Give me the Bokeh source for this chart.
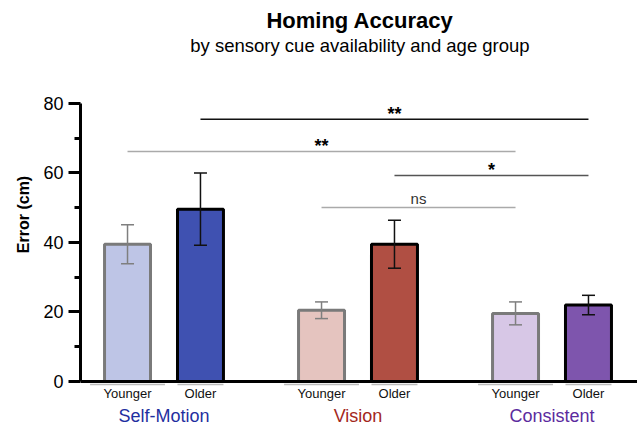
from bokeh.plotting import figure
from bokeh.models import Range1d, FixedTicker, Span, Whisker, TeeHead, ColumnDataSource
from bokeh.core.properties import value
from bokeh.embed import file_html
from bokeh.resources import INLINE

# ---------------- data ----------------
groups = ["Self-Motion", "Vision", "Consistent"]
ages = ["Younger", "Older"]
younger_mean = [39.5, 20.5, 19.6]
younger_err = [5.6, 2.4, 3.3]
older_mean = [49.6, 39.5, 22.0]
older_err = [10.4, 6.9, 2.8]

y_ticks = [0, 20, 40, 60, 80]
y_minor_ticks = [10, 30, 50, 70]

# significance comparisons: bar index (0..5 = SM-Y, SM-O, V-Y, V-O, C-Y, C-O)
sig_from = [1, 0, 3, 2]
sig_to = [5, 4, 5, 4]
sig_level = [75.5, 66.2, 59.3, 50.1]
sig_label = ["**", "**", "*", "ns"]

title_text = "Homing Accuracy"
subtitle_text = "by sensory cue availability and age group"
y_label = "Error (cm)"

# ---------------- styles ----------------
FONT = "Liberation Sans"
younger_fill = ["#BEC5E6", "#E5C4BF", "#D7C7E6"]
older_fill = ["#3F51B1", "#B04F43", "#7E55AD"]
group_text_color = ["#1F2FA0", "#A3281C", "#5B2B9E"]
sig_color = ["#111111", "#AAAAAA", "#555555", "#AAAAAA"]
age_offset = 0.188
bar_w = 0.237

p = figure(width=637, height=428,
           x_range=Range1d(-0.4304, 2.4407), y_range=Range1d(-13.53, 109.64),
           output_backend="svg", toolbar_location=None,
           x_axis_location=None,
           min_border_left=80, min_border_right=0, min_border_top=0, min_border_bottom=0)
p.xgrid.visible = False
p.ygrid.visible = False
p.outline_line_color = None
p.background_fill_color = "white"

ax = p.yaxis[0]
ax.ticker = FixedTicker(ticks=y_ticks, minor_ticks=y_minor_ticks)
ax.bounds = (0, 80)
ax.axis_line_width = 3
ax.axis_line_color = "black"
ax.major_tick_line_width = 3
ax.minor_tick_line_width = 3
ax.major_tick_out = 12
ax.major_tick_in = 0
ax.minor_tick_out = 6
ax.minor_tick_in = 0
ax.major_label_text_font = FONT
ax.major_label_text_font_size = "18px"
ax.major_label_text_color = "black"
ax.major_label_standoff = 5
ax.axis_label = y_label
ax.axis_label_text_font = FONT
ax.axis_label_text_font_size = "16px"
ax.axis_label_text_font_style = "bold"
ax.axis_label_text_color = "black"
ax.axis_label_standoff = 8

# positions
gx = list(range(len(groups)))
yx = [g - age_offset for g in gx]
ox = [g + age_offset for g in gx]
bar_x = []
for a, b in zip(yx, ox):
    bar_x += [a, b]

# gray base segments below each bar
p.segment(x0=[x - 0.193 for x in yx], x1=[x + 0.193 for x in yx], y0=-0.9, y1=-0.9,
          line_color="#BBBBBB", line_width=1.5)
p.segment(x0=[x - bar_w / 2 for x in ox], x1=[x + bar_w / 2 for x in ox], y0=-0.9, y1=-0.9,
          line_color="#BBBBBB", line_width=1.5)

# bars
ysrc = ColumnDataSource(dict(x=yx, top=younger_mean, fill=younger_fill,
                             upper=[m + e for m, e in zip(younger_mean, younger_err)],
                             lower=[m - e for m, e in zip(younger_mean, younger_err)]))
osrc = ColumnDataSource(dict(x=ox, top=older_mean, fill=older_fill,
                             upper=[m + e for m, e in zip(older_mean, older_err)],
                             lower=[m - e for m, e in zip(older_mean, older_err)]))
p.vbar(x="x", top="top", bottom=0, width=bar_w, fill_color="fill", line_color="#7A7A7A",
       line_width=3, source=ysrc)
p.vbar(x="x", top="top", bottom=0, width=bar_w, fill_color="fill", line_color="black",
       line_width=3, source=osrc)

# baseline
p.add_layout(Span(location=0, dimension="width", line_color="black", line_width=3))

# error bars
for src, col in ((ysrc, "#7F7F7F"), (osrc, "#111111")):
    w = Whisker(base="x", upper="upper", lower="lower", source=src, dimension="height",
                line_color=col, line_width=1.5, level="annotation",
                upper_head=TeeHead(size=13, line_color=col, line_width=1.5),
                lower_head=TeeHead(size=13, line_color=col, line_width=1.5))
    p.add_layout(w)

# significance lines
sx0 = [bar_x[i] for i in sig_from]
sx1 = [bar_x[i] for i in sig_to]
p.segment(x0=sx0, x1=sx1, y0=sig_level, y1=sig_level, line_color=sig_color, line_width=1.5)
mid = [(a + b) / 2 for a, b in zip(sx0, sx1)]
star_i = [i for i, s in enumerate(sig_label) if s != "ns"]
ns_i = [i for i, s in enumerate(sig_label) if s == "ns"]
p.text(x=[mid[i] for i in star_i], y=[sig_level[i] for i in star_i],
       text=[sig_label[i] for i in star_i], text_align="center", text_baseline="alphabetic",
       y_offset=-5, text_font=value(FONT), text_font_size="18px", text_font_style="bold",
       text_color="black")
p.text(x=[mid[i] for i in ns_i], y=[sig_level[i] for i in ns_i],
       text=[sig_label[i] for i in ns_i], text_align="center", text_baseline="alphabetic",
       y_offset=-9, text_font=value(FONT), text_font_size="15px", text_color="#333333")

# category labels
p.text(x=bar_x, y=-3.45, text=ages * len(groups), text_align="center", text_baseline="middle",
       text_font=value(FONT), text_font_size="13px", text_color="#111111")
p.text(x=gx, y=-10.07, text=groups, text_align="center", text_baseline="middle",
       text_font=value(FONT), text_font_size="18px", text_color=group_text_color)

# title and subtitle
p.text(x=[1.01], y=[103.9], text=[title_text], text_align="center", text_baseline="middle",
       text_font=value(FONT), text_font_size="22px", text_font_style="bold", text_color="black")
p.text(x=[1.01], y=[96.7], text=[subtitle_text], text_align="center", text_baseline="middle",
       text_font=value(FONT), text_font_size="18.5px", text_color="black")

open("out.html", "w").write(file_html(p, INLINE))
